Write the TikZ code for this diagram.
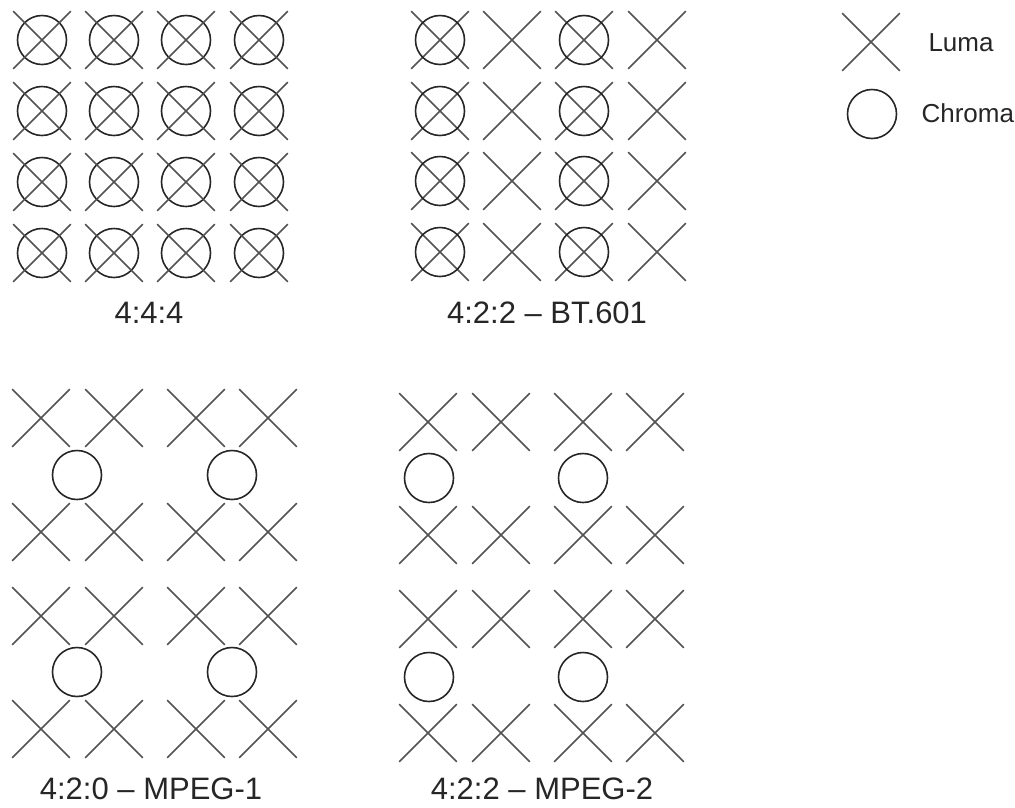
\documentclass[tikz,border=0pt]{standalone}
\usepackage{fontspec}
\setmainfont{Liberation Sans}
\usetikzlibrary{shapes.misc}
\tikzset{
  luma/.style={draw=black!68, cross out, line width=1.6pt, minimum size=56pt, inner sep=0pt},
  chroma/.style={draw=black!85, circle, line width=1.6pt, minimum size=49pt, inner sep=0pt},
  caption/.style={font=\fontsize{31}{36}\selectfont, text=black!85, anchor=base},
  legendtext/.style={font=\fontsize{26}{30}\selectfont, text=black!85, anchor=base west}
}
\begin{document}
\begin{tikzpicture}[x=1pt,y=-1pt]
  \useasboundingbox (0,0) rectangle (1015,807);
  % 4:4:4
  \foreach \x [count=\i] in {42,114,186,259}
    \foreach \y [count=\j] in {40,111,182,253} {
      \node[chroma] (fc-\i-\j) at (\x,\y) {};
      \node[luma] (fl-\i-\j) at (\x,\y) {};
    }
  \node[caption] (capfull) at (149,323) {4:4:4};
  % 4:2:2 BT.601
  \foreach \x [count=\i] in {440,512,584,657}
    \foreach \y [count=\j] in {40,111,181,252}
      \node[luma] (bl-\i-\j) at (\x,\y) {};
  \foreach \x [count=\i] in {440,584}
    \foreach \y [count=\j] in {40,111,181,252}
      \node[chroma] (bc-\i-\j) at (\x,\y) {};
  \node[caption] (capbt) at (547,323) {4:2:2 -- BT.601};
  % 4:2:0 MPEG-1
  \foreach \x [count=\i] in {41,114,196,268}
    \foreach \y [count=\j] in {418,532,616,729}
      \node[luma] (ml-\i-\j) at (\x,\y) {};
  \foreach \x [count=\i] in {77,232}
    \foreach \y [count=\j] in {475,672}
      \node[chroma] (mc-\i-\j) at (\x,\y) {};
  \node[caption] (capmone) at (151,799) {4:2:0 -- MPEG-1};
  % 4:2:2 MPEG-2
  \foreach \x [count=\i] in {428,501,583,655}
    \foreach \y [count=\j] in {422,535,619,733}
      \node[luma] (pl-\i-\j) at (\x,\y) {};
  \foreach \x [count=\i] in {429,583}
    \foreach \y [count=\j] in {478,677}
      \node[chroma] (pc-\i-\j) at (\x,\y) {};
  \node[caption] (capmtwo) at (542,799) {4:2:2 -- MPEG-2};
  % legend
  \node[luma] (keyluma) at (871,42) {};
  \node[legendtext] (txtluma) at (925,51) {Luma};
  \node[chroma] (keychroma) at (872,114) {};
  \node[legendtext] (txtchroma) at (918,122) {Chroma};
\end{tikzpicture}
\end{document}
